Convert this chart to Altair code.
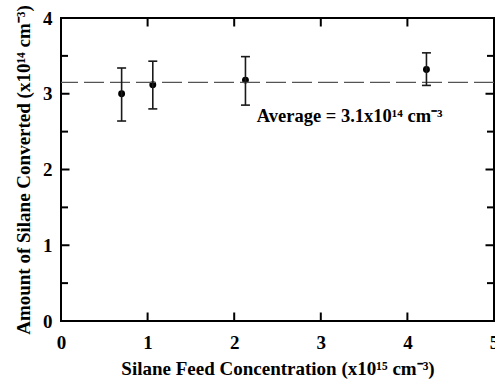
import altair as alt
import pandas as pd

# Data
feed_conc = [0.70, 1.06, 2.13, 4.22]          # x10^15 cm^-3
converted = [3.00, 3.12, 3.18, 3.32]          # x10^14 cm^-3
err_low = [2.64, 2.80, 2.85, 3.11]
err_high = [3.34, 3.43, 3.49, 3.54]
average_value = 3.15
annot_x = [2.26]
annot_y = [2.71]
annot_text = ["Average = 3.1x10\u00b9\u2074 cm\u207b\u00b3"]

x_major = [1, 2, 3, 4]
y_major = [1, 2, 3]
y_minor = [0.5, 1.5, 2.5, 3.5]
x_edges = [0, 5]
y_edges = [0, 4]

FONT = "Liberation Serif"

df = pd.DataFrame({"x": feed_conc, "y": converted, "lo": err_low, "hi": err_high})

xs = alt.Scale(domain=[0, 5], nice=False, zero=False)
ys = alt.Scale(domain=[0, 4], nice=False, zero=False)

xaxis = alt.Axis(values=[0, 1, 2, 3, 4, 5], format="d", ticks=False, domain=False, grid=False,
                 labelFont=FONT, labelFontSize=19, labelFontWeight="bold", labelColor="black",
                 labelPadding=12, labelFlush=False, labelOverlap=False,
                 title="Silane Feed Concentration (x10\u00b9\u2075 cm\u207b\u00b3)",
                 titleFont=FONT, titleFontSize=19, titleFontWeight="bold", titleColor="black",
                 titlePadding=7)
yaxis = alt.Axis(values=[0, 1, 2, 3, 4], format="d", ticks=False, domain=False, grid=False,
                 labelFont=FONT, labelFontSize=19, labelFontWeight="bold", labelColor="black",
                 labelPadding=9, labelFlush=False, labelOverlap=False,
                 title="Amount of Silane Converted (x10\u00b9\u2074 cm\u207b\u00b3)",
                 titleFont=FONT, titleFontSize=19, titleFontWeight="bold", titleColor="black",
                 titlePadding=9)

base = alt.Chart(df)

points = base.mark_circle(size=48, color="black", opacity=1).encode(
    x=alt.X("x:Q", scale=xs, axis=xaxis),
    y=alt.Y("y:Q", scale=ys, axis=yaxis),
)
bars = base.mark_rule(color="#1a1a1a", strokeWidth=1.6).encode(
    x=alt.X("x:Q", scale=xs), y=alt.Y("lo:Q", scale=ys), y2="hi:Q")
cap_lo = base.mark_tick(orient="horizontal", size=9, thickness=1.6, color="#1a1a1a", opacity=1).encode(
    x=alt.X("x:Q", scale=xs), y=alt.Y("lo:Q", scale=ys))
cap_hi = base.mark_tick(orient="horizontal", size=9, thickness=1.6, color="#1a1a1a", opacity=1).encode(
    x=alt.X("x:Q", scale=xs), y=alt.Y("hi:Q", scale=ys))

avg_line = alt.Chart(pd.DataFrame({"avg": [average_value]})).mark_rule(
    color="#555555", strokeWidth=1.3, strokeDash=[20, 6]).encode(
    y=alt.Y("avg:Q", scale=ys))

annot = alt.Chart(pd.DataFrame({"x": annot_x, "y": annot_y, "t": annot_text})).mark_text(
    align="left", baseline="middle", font=FONT, fontSize=18.5, fontWeight="bold", color="black").encode(
    x=alt.X("x:Q", scale=xs), y=alt.Y("y:Q", scale=ys), text="t:N")

# inward ticks on all four sides
ytick_rows = [{"x": e, "y": v} for e in x_edges for v in y_major]
ymin_rows = [{"x": e, "y": v} for e in x_edges for v in y_minor]
xtick_rows = [{"x": v, "y": e} for e in y_edges for v in x_major]

ytk = alt.Chart(pd.DataFrame(ytick_rows)).mark_tick(
    orient="horizontal", size=17, thickness=2, color="black", opacity=1, clip=True).encode(
    x=alt.X("x:Q", scale=xs), y=alt.Y("y:Q", scale=ys))
ymn = alt.Chart(pd.DataFrame(ymin_rows)).mark_tick(
    orient="horizontal", size=14, thickness=2, color="black", opacity=1, clip=True).encode(
    x=alt.X("x:Q", scale=xs), y=alt.Y("y:Q", scale=ys))
xtk = alt.Chart(pd.DataFrame(xtick_rows)).mark_tick(
    orient="vertical", size=17, thickness=2, color="black", opacity=1, clip=True).encode(
    x=alt.X("x:Q", scale=xs), y=alt.Y("y:Q", scale=ys))

chart = alt.layer(points, avg_line, bars, cap_lo, cap_hi, annot, ytk, ymn, xtk).properties(
    width=433, height=303,
    autosize=alt.AutoSizeParams(type="none"),
    padding={"left": 61, "top": 18, "right": 1, "bottom": 62},
    background="white",
).configure_view(stroke="black", strokeWidth=2)

chart.save("out.html", embed_options={"renderer": "svg", "actions": False})
